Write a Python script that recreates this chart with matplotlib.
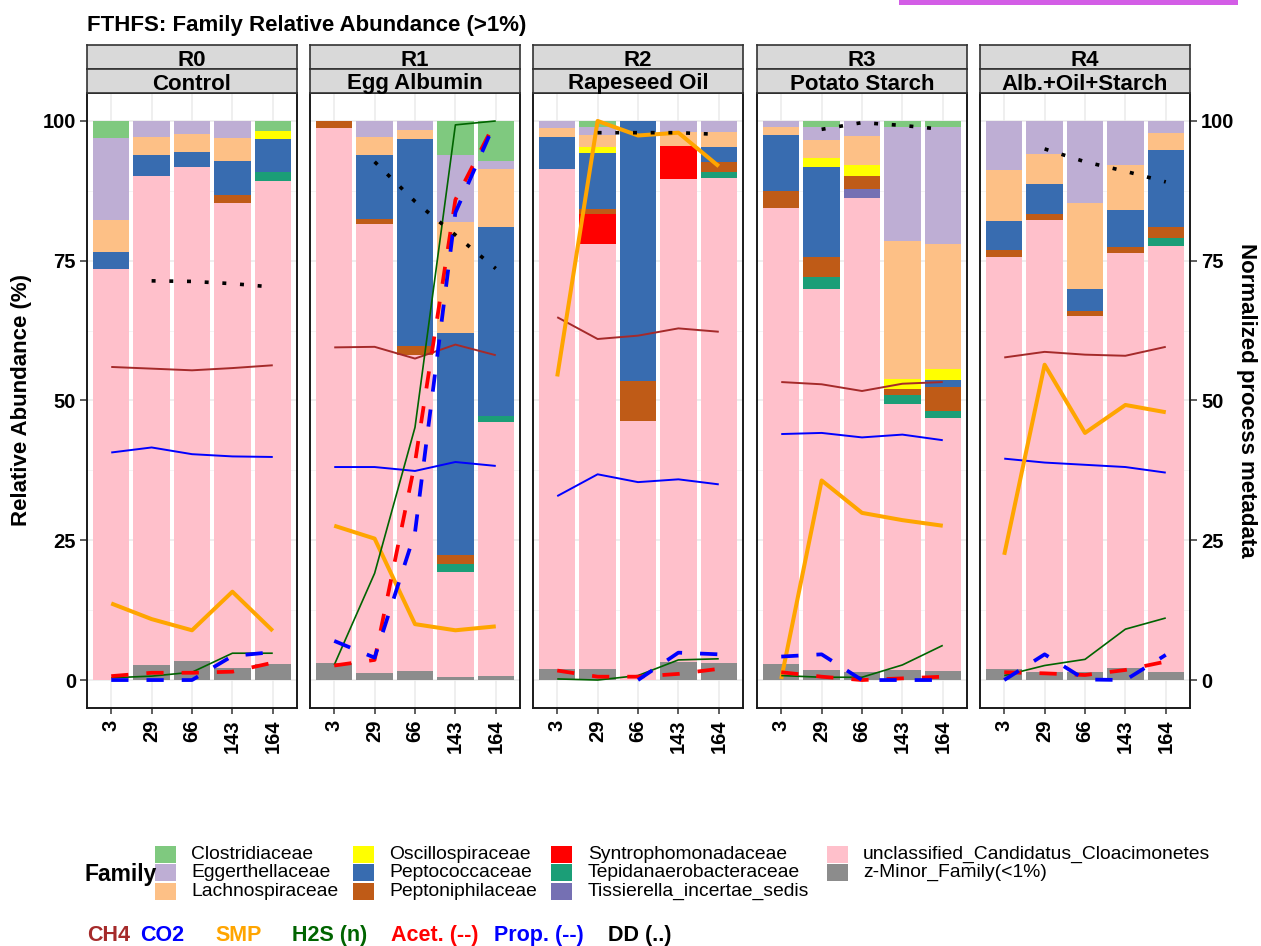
import matplotlib
matplotlib.use('Agg')
import matplotlib.pyplot as plt
from matplotlib.patches import Rectangle
import numpy as np

plt.rcParams['font.family'] = ['Liberation Sans', 'DejaVu Sans']

W, H = 1261, 946

reactors = ['R0', 'R1', 'R2', 'R3', 'R4']
substrates = ['Control', 'Egg Albumin', 'Rapeseed Oil', 'Potato Starch', 'Alb.+Oil+Starch']
days = ['3', '29', '66', '143', '164']

families = ['Clostridiaceae', 'Eggerthellaceae', 'Lachnospiraceae', 'Oscillospiraceae',
            'Peptococcaceae', 'Peptoniphilaceae', 'Syntrophomonadaceae',
            'Tepidanaerobacteraceae', 'Tissierella_incertae_sedis',
            'unclassified_Candidatus_Cloacimonetes', 'z-Minor_Family(<1%)']
family_colors = ['#7FC97F', '#BEAED4', '#FDC086', '#FFFF00', '#386CB0', '#BF5B17',
                 '#FF0000', '#1B9E77', '#7570B3', '#FFC0CB', '#8C8C8C']

# relative abundance (%), days 3..164 for R0, R1, R2, R3, R4
clostridiaceae = [3.0, 0, 0, 0, 1.8,   0, 0, 0, 6.1, 7.2,   0, 1.1, 0, 0, 0,
                  0, 1.1, 0, 1.1, 1.1,   0, 0, 0, 0, 0]
eggerthellaceae = [14.7, 2.9, 2.4, 3.1, 0,   0, 2.9, 1.6, 12.0, 1.4,   1.2, 1.4, 0, 1.9, 2.0,
                   1.1, 2.3, 2.7, 20.4, 20.9,   8.8, 5.9, 14.6, 7.9, 2.2]
lachnospiraceae = [5.8, 3.2, 3.1, 4.0, 0,   0, 3.2, 1.6, 19.9, 10.3,   1.6, 2.2, 0, 2.6, 2.6,
                   1.5, 3.3, 5.2, 24.6, 22.3,   9.1, 5.4, 15.5, 8.1, 3.0]
oscillospiraceae = [0, 0, 0, 0, 1.5,   0, 0, 0, 0, 0,   0, 1.0, 0, 0, 0,
                    0, 1.5, 1.9, 1.8, 2.1,   0, 0, 0, 0, 0]
peptococcaceae = [2.9, 3.7, 2.8, 6.1, 5.8,   0, 11.4, 37.0, 39.7, 33.9,   5.8, 10.1, 46.5, 0, 2.7,
                  10.0, 16.1, 0, 0, 1.1,   5.1, 5.4, 3.9, 6.5, 13.7]
peptoniphilaceae = [0, 0, 0, 1.5, 0,   1.3, 1.0, 1.6, 1.5, 0,   0, 0.8, 7.1, 0, 1.8,
                    2.9, 3.6, 2.3, 1.2, 4.4,   1.3, 1.1, 0.9, 1.2, 2.0]
syntrophomonadaceae = [0, 0, 0, 0, 0,   0, 0, 0, 0, 0,   0, 5.4, 0, 5.9, 0,
                       0, 0, 0, 0, 0,   0, 0, 0, 0, 0]
tepidanaerobacteraceae = [0, 0, 0, 0, 1.6,   0, 0, 0, 1.4, 1.0,   0, 0, 0, 0, 1.1,
                          0, 2.1, 0, 1.6, 1.2,   0, 0, 0, 0, 1.4]
tissierella = [0, 0, 0, 0, 0,   0, 0, 0, 0, 0,   0, 0, 0, 0, 0,
               0, 0, 1.6, 0, 0,   0, 0, 0, 0, 0]
unclassified = [73.6, 87.5, 88.3, 83.2, 86.4,   95.7, 80.2, 56.5, 18.9, 45.4,
                89.5, 76.1, 46.4, 86.3, 86.8,   81.6, 68.2, 84.9, 47.5, 45.2,
                73.8, 80.7, 63.7, 74.1, 76.3]
minor = [0, 2.7, 3.4, 2.1, 2.9,   3.0, 1.3, 1.7, 0.5, 0.8,   1.9, 1.9, 0, 3.3, 3.0,
         2.9, 1.8, 1.4, 1.8, 1.7,   1.9, 1.5, 1.4, 2.2, 1.4]

abundance = [clostridiaceae, eggerthellaceae, lachnospiraceae, oscillospiraceae,
             peptococcaceae, peptoniphilaceae, syntrophomonadaceae,
             tepidanaerobacteraceae, tissierella, unclassified, minor]

nan = float('nan')
# normalized process metadata (0-100)
ch4 = [56.0, 55.7, 55.4, 55.8, 56.3,   59.5, 59.6, 57.5, 60.0, 58.1,   64.9, 61.0, 61.6, 62.9, 62.3,
       53.3, 52.9, 51.7, 53.0, 53.3,   57.7, 58.7, 58.2, 58.0, 59.6]
co2 = [40.7, 41.6, 40.4, 40.0, 39.9,   38.1, 38.1, 37.4, 39.0, 38.3,   32.9, 36.8, 35.4, 35.9, 35.0,
       44.0, 44.2, 43.4, 43.9, 42.9,   39.6, 38.9, 38.5, 38.1, 37.1]
smp = [13.7, 10.9, 8.9, 15.8, 8.8,   27.6, 25.3, 10.0, 8.9, 9.6,   54.3, 100.0, 97.4, 97.9, 91.9,
       0.2, 35.7, 29.9, 28.6, 27.6,   22.4, 56.4, 44.2, 49.2, 47.9]
h2s = [0.4, 0.7, 1.4, 4.8, 4.8,   2.7, 19.1, 45.2, 99.3, 100.0,   0.2, 0.0, 0.8, 3.6, 3.8,
       0.8, 0.5, 0.5, 2.7, 6.2,   0.8, 2.6, 3.7, 9.1, 11.1]
acet = [0.7, 1.3, 1.3, 1.5, 3.1,   2.6, 3.6, 38.9, 85.9, 100.0,   1.7, 0.6, 0.6, 1.1, 2.0,
        1.4, 0.6, 0.0, 0.3, 0.6,   1.4, 1.2, 0.9, 1.8, 3.3]
prop = [0.0, 0.0, 0.0, 4.3, 5.0,   7.0, 4.0, 26.4, 83.6, 100.0,   nan, nan, 0.0, 4.9, 4.6,
        4.2, 4.6, 0.0, 0.0, 0.0,   0.0, 4.6, 0.1, 0.0, 4.5]
dd = [nan, 71.4, 71.3, 70.9, 70.3,   nan, 92.7, 85.6, 79.6, 73.6,   nan, 97.9, 97.9, 97.9, 97.6,
      nan, 98.5, 99.7, 99.2, 98.5,   nan, 95.0, 92.7, 91.0, 89.1]

line_specs = [
    (ch4, '#A52A2A', 1.4, '-'),
    (co2, '#0000FF', 1.4, '-'),
    (smp, '#FFA500', 2.9, '-'),
    (h2s, '#006400', 1.2, '-'),
    (acet, '#FF0000', 2.7, (0, (4.6, 4.8))),
    (prop, '#0000FF', 2.7, (0, (4.6, 4.8))),
    (dd, '#000000', 2.6, (0, (1.1, 3.8))),
]


def px_rect(x0, y0, w, h):
    return [x0 / W, 1 - (y0 + h) / H, w / W, h / H]


fig = plt.figure(figsize=(W / 100, H / 100), dpi=100)

panel_left = [87, 310, 533, 757, 980]
x = np.arange(1, 6)
for i in range(5):
    ax = fig.add_axes(px_rect(panel_left[i], 93, 210, 615))
    sl = slice(5 * i, 5 * i + 5)
    bottom = np.zeros(5)
    for col, vals in reversed(list(zip(family_colors, abundance))):
        v = np.array(vals[sl], dtype=float)
        ax.bar(x, v, 0.9, bottom=bottom, color=col, linewidth=0, zorder=2)
        bottom += v
    for vals, col, lw, ls in line_specs:
        ax.plot(x, np.array(vals[sl], dtype=float), color=col, lw=lw, ls=ls,
                zorder=3, dash_capstyle='butt', solid_capstyle='butt')

    ax.set_xlim(0.4, 5.6)
    ax.set_ylim(-5, 105)
    ax.set_xticks(x)
    ax.set_xticklabels(days, rotation=90, fontsize=14.5, fontweight='bold')
    ax.set_yticks([0, 25, 50, 75, 100])
    ax.set_yticks([12.5, 37.5, 62.5, 87.5], minor=True)
    ax.set_axisbelow(True)
    ax.grid(which='major', color='#EBEBEB', lw=1.1, zorder=0)
    ax.grid(which='minor', axis='y', color='#F2F2F2', lw=0.6, zorder=0)
    ax.tick_params(axis='x', length=4.5, width=1.1, pad=4, color='#333333')
    ax.tick_params(axis='y', which='minor', length=0)
    for s in ax.spines.values():
        s.set_color('#1A1A1A')
        s.set_linewidth(1.4)
    if i == 0:
        ax.set_yticklabels(['0', '25', '50', '75', '100'], fontsize=14.5, fontweight='bold')
        ax.tick_params(axis='y', length=5, width=1.1, pad=3, color='#333333')
    elif i == 4:
        ax.yaxis.tick_right()
        ax.set_yticklabels(['0', '25', '50', '75', '100'], fontsize=14.5, fontweight='bold')
        ax.tick_params(axis='y', which='major', length=5, width=1.1, pad=3, color='#333333')
        ax.tick_params(axis='y', which='minor', length=0)
    else:
        ax.tick_params(axis='y', length=0, labelleft=False)

    # facet strips
    for row, (label, top) in enumerate([(reactors[i], 45), (substrates[i], 69)]):
        sax = fig.add_axes(px_rect(panel_left[i], top, 210, 24))
        sax.set_facecolor('#D9D9D9')
        sax.set_xticks([])
        sax.set_yticks([])
        for s in sax.spines.values():
            s.set_color('#333333')
            s.set_linewidth(1.2)
        fig.text((panel_left[i] + 105) / W, 1 - (top + 20.5) / H, label,
                 ha='center', va='baseline', fontsize=16, fontweight='bold')

fig.text(87 / W, 1 - 30.5 / H, 'FTHFS: Family Relative Abundance (>1%)',
         ha='left', va='baseline', fontsize=16, fontweight='bold')
fig.text(22 / W, 1 - 400 / H, 'Relative Abundance (%)', rotation=90,
         ha='center', va='center', fontsize=16, fontweight='bold')
fig.text(1246 / W, 1 - 400 / H, 'Normalized process metadata', rotation=270,
         ha='center', va='center', fontsize=16, fontweight='bold')

# magenta bar at top right
fig.patches.append(Rectangle((899 / W, 1 - 5 / H), 339 / W, 5 / H,
                             transform=fig.transFigure, color='#D35DE6', lw=0))

# family legend
fig.text(85 / W, 1 - 874 / H, 'Family', ha='left', va='center',
         fontsize=16.5, fontweight='bold')
key_x = [155, 353, 551, 827]
text_x = [191, 389, 588, 863]
row_y = [854, 872.5, 891]
for k, (fam, col) in enumerate(zip(families, family_colors)):
    c, r = k // 3, k % 3
    fig.patches.append(Rectangle((key_x[c] / W, 1 - (row_y[r] + 8.5) / H), 21 / W, 17 / H,
                                 transform=fig.transFigure, color=col, lw=0))
    fig.text(text_x[c] / W, 1 - row_y[r] / H, fam, ha='left', va='center', fontsize=13.9)

# process metadata colour key
meta_labels = ['CH4', 'CO2', 'SMP', 'H2S (n)', 'Acet. (--)', 'Prop. (--)', 'DD (..)']
meta_colors = ['#A52A2A', '#0000FF', '#FFA500', '#006400', '#FF0000', '#0000FF', '#000000']
meta_x = [87, 140, 215, 292, 391, 494, 608]
for lab, col, mx in zip(meta_labels, meta_colors, meta_x):
    fig.text(mx / W, 1 - 935 / H, lab, ha='left', va='center', color=col,
             fontsize=15.5, fontweight='bold')

plt.savefig('out.png', dpi=100)
